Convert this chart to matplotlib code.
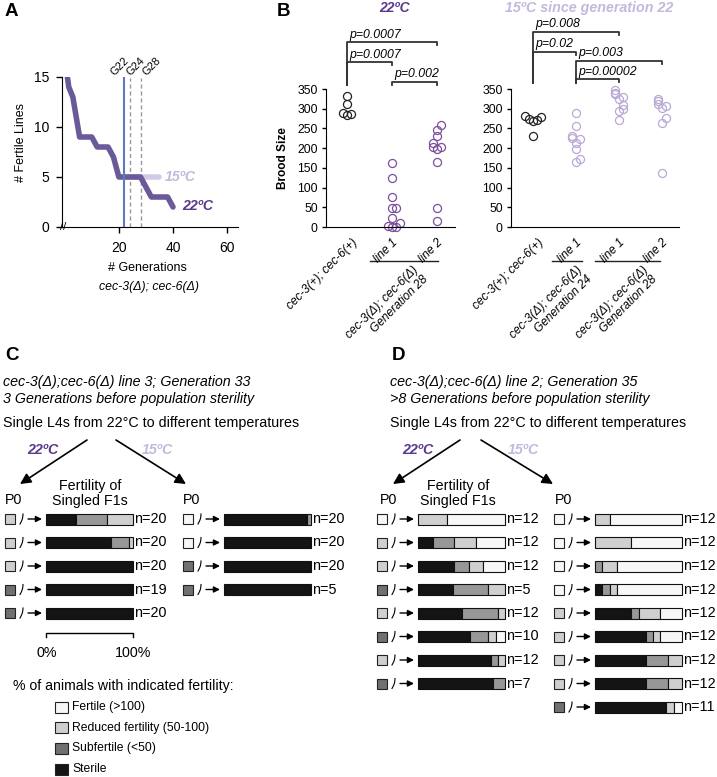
import numpy as np
import matplotlib
matplotlib.use('Agg')
import matplotlib.pyplot as plt
from matplotlib.patches import Rectangle

plt.rcParams['font.family'] = ['Liberation Sans', 'DejaVu Sans']

W, H = 717, 777

# ---------------- data ----------------
# A: number of fertile lines vs generation
gen_22 = [1, 1.5, 3, 5.5, 10, 12, 16, 18, 20, 28, 32, 38, 40]
lines_22 = [15, 14, 13, 9, 9, 8, 8, 7, 5, 5, 3, 3, 2]
gen_15 = [22, 35]
lines_15 = [5, 5]
marked_gens = [22, 24, 28]
marked_labels = ['G22', 'G24', 'G28']

# B: brood sizes
b22_wt = [333, 311, 289, 284, 286]
b22_line1 = [163, 124, 77, 48, 47, 24, 10, 2, 0, 0]
b22_line2 = [259, 247, 230, 214, 204, 202, 198, 166, 47, 16]
b22_pvals = [('p=0.0007', 1, 3), ('p=0.0007', 1, 2), ('p=0.002', 2, 3)]

b15_wt = [281, 278, 275, 272, 269, 231]
b15_g24 = [289, 255, 230, 225, 222, 214, 198, 172, 166]
b15_g28_l1 = [348, 341, 337, 329, 325, 310, 299, 295, 272]
b15_g28_l2 = [325, 319, 313, 308, 302, 276, 264, 136]
b15_pvals = [('p=0.008', 1, 3), ('p=0.02', 1, 2), ('p=0.003', 2, 4), ('p=0.00002', 2, 3)]

wt_label = 'cec-3(+); cec-6(+)'
mut_label = 'cec-3(Δ); cec-6(Δ)\nGeneration {}'

# C / D: counts per F1 category [sterile, subfertile, reduced, fertile]
categories = ['sterile', 'subfertile', 'reduced', 'fertile']
c22_counts = [[7, 7, 6, 0], [15, 4, 1, 0], [20, 0, 0, 0], [19, 0, 0, 0], [20, 0, 0, 0]]
c22_p0 = ['reduced', 'reduced', 'reduced', 'subfertile', 'subfertile']
c15_counts = [[19, 1, 0, 0], [20, 0, 0, 0], [20, 0, 0, 0], [5, 0, 0, 0]]
c15_p0 = ['fertile', 'fertile', 'subfertile', 'subfertile']
d22_counts = [[0, 0, 4, 8], [2, 3, 3, 4], [5, 2, 2, 3], [2, 2, 1, 0],
              [6, 5, 1, 0], [6, 2, 1, 1], [10, 1, 1, 0], [6, 1, 0, 0]]
d22_p0 = ['fertile', 'reduced', 'reduced', 'subfertile', 'reduced', 'subfertile', 'reduced', 'subfertile']
d15_counts = [[0, 0, 2, 10], [0, 0, 5, 7], [0, 1, 2, 9], [1, 1, 1, 9], [5, 1, 3, 3],
              [7, 1, 1, 3], [7, 3, 2, 0], [7, 3, 2, 0], [9, 0, 1, 1]]
d15_p0 = ['fertile'] * 4 + ['reduced'] * 4 + ['subfertile']

legend_labels = ['Fertile (>100)', 'Reduced fertility (50-100)', 'Subfertile (<50)', 'Sterile']
legend_keys = ['fertile', 'reduced', 'subfertile', 'sterile']

# ---------------- style ----------------
PURPLE = '#5b3a8e'
LIGHT = '#c4b8dc'
bar_colors = {'sterile': '#141414', 'subfertile': '#979797', 'reduced': '#cfcfcf', 'fertile': '#f7f7f7'}
box_colors = {'sterile': '#141414', 'subfertile': '#707070', 'reduced': '#cfcfcf', 'fertile': '#f7f7f7'}
b22_bracket_h = [469, 418, 368]
b15_bracket_h = [495, 444, 421, 375]
LBL = 8.6  # rotated category label size


def box(x0, y0, x1, y1):
    return [x0 / W, 1 - y1 / H, (x1 - x0) / W, (y1 - y0) / H]


def spread(vals, width=0.09, gap=13):
    vals = np.asarray(vals, float)
    offs = np.zeros(len(vals))
    placed = []
    for k in np.argsort(vals):
        n = sum(1 for p in placed if abs(vals[p] - vals[k]) < gap)
        if n:
            offs[k] = ((n + 1) // 2) * width * (1 if n % 2 else -1)
        placed.append(k)
    return offs


fig = plt.figure(figsize=(W / 100, H / 100), dpi=100)
ov = fig.add_axes([0, 0, 1, 1])
ov.set_xlim(0, W)
ov.set_ylim(H, 0)
ov.axis('off')

# ---------------- panel A ----------------
axA = fig.add_axes(box(62, 77, 238, 227))
axA.plot(gen_15, lines_15, color='#d3cae6', lw=4, solid_capstyle='round', zorder=2)
axA.plot(gen_22, lines_22, color='#6b5a9a', lw=4, solid_capstyle='round', solid_joinstyle='round', zorder=3)
axA.axvline(marked_gens[0], color='#5f78c0', lw=1.5, zorder=4)
for g in marked_gens[1:]:
    axA.axvline(g, ymax=0.99, color='#999999', lw=1, ls=(0, (3, 2)), zorder=1)
for g, lab, dx in zip(marked_gens, marked_labels, [-1.6, 2.3, 4.2]):
    axA.text(g + dx, 16.1, lab, rotation=45, ha='center', va='center', fontsize=8, clip_on=False)
axA.text(37, 5, '15ºC', color=LIGHT, fontsize=10.2, fontweight='bold', style='italic', va='center')
axA.text(43.5, 2.1, '22ºC', color=PURPLE, fontsize=10.2, fontweight='bold', style='italic', va='center')
axA.set_xlim(-1, 64)
axA.set_ylim(0, 15)
axA.set_xticks([20, 40, 60])
axA.set_yticks([0, 5, 10, 15])
axA.tick_params(direction='out', length=4, width=1, labelsize=10, pad=5)
axA.tick_params(axis='x', pad=6)
for s in ['top', 'right']:
    axA.spines[s].set_visible(False)
axA.text(-0.5, 0, '//', fontsize=8, ha='center', va='center', clip_on=False)
ov.text(21, 142, '# Fertile Lines', rotation=90, ha='center', va='center', fontsize=9)
ov.text(147, 268, '# Generations', ha='center', va='center', fontsize=9)
ov.text(149, 287, 'cec-3(Δ); cec-6(Δ)', ha='center', va='center', fontsize=8.8, style='italic')


# ---------------- panel B ----------------
def brood_axes(rect, groups, colors, xlim, pvals, heights, stem_base):
    ax = fig.add_axes(rect)
    for i, (vals, c) in enumerate(zip(groups, colors)):
        x = i + 1 + spread(vals)
        ax.plot(x, vals, 'o', mfc='none', mec=c, ms=5.8, mew=0.9, clip_on=False)
    ax.set_xlim(*xlim)
    ax.set_ylim(0, 350)
    ax.set_yticks(range(0, 351, 50))
    ax.set_xticks([])
    ax.tick_params(direction='out', length=3, width=1, labelsize=8.8, pad=3)
    for s in ['top', 'right']:
        ax.spines[s].set_visible(False)
    for (txt, i, j), h in zip(pvals, heights):
        ax.plot([i, i, j, j], [stem_base, h, h, h - 8], color='#333333', lw=1.3, clip_on=False)
        ax.text(i + 0.05, h + 4, txt, fontsize=8.8, style='italic', va='bottom', ha='left')
    ax.text(1.1, -25, wt_label, rotation=45, rotation_mode='anchor', ha='right', va='top',
            fontsize=LBL, style='italic')
    return ax


axL = brood_axes(box(326, 89, 455, 227), [b22_wt, b22_line1, b22_line2],
                 ['#222222', '#7c4f9c', '#7c4f9c'], (0.53, 3.4), b22_pvals, b22_bracket_h, 360)
axL.text(2.05, 556, '22ºC', color=PURPLE, fontsize=10, fontweight='bold', style='italic', ha='center', va='center')
axL.set_ylabel('Brood Size', fontsize=8.6, fontweight='bold', labelpad=6)
for x, lab in zip([2, 3], ['line 1', 'line 2']):
    axL.text(x, -25, lab, rotation=45, rotation_mode='anchor', ha='right', va='top', fontsize=LBL, style='italic')
axL.plot([1.5, 3.03], [-86, -86], color='#222222', lw=1, clip_on=False)
axL.text(2.45, -93, mut_label.format(28), rotation=45, rotation_mode='anchor', ha='right', va='top',
         fontsize=LBL, style='italic', multialignment='right')

axR = brood_axes(box(511, 89, 679, 227), [b15_wt, b15_g24, b15_g28_l1, b15_g28_l2],
                 ['#222222', '#b9a9d6', '#b9a9d6', '#b9a9d6'], (0.49, 4.4), b15_pvals, b15_bracket_h, 365)
axR.text(2.3, 556, '15ºC since generation 22', color=LIGHT, fontsize=10.3, fontweight='bold',
         style='italic', ha='center', va='center')
for x, lab in zip([2, 3, 4], ['line 1', 'line 1', 'line 2']):
    axR.text(x, -25, lab, rotation=45, rotation_mode='anchor', ha='right', va='top', fontsize=LBL, style='italic')
axR.plot([1.45, 2.15], [-86, -86], color='#222222', lw=1, clip_on=False)
axR.plot([2.45, 3.95], [-86, -86], color='#222222', lw=1, clip_on=False)
axR.text(2.0, -93, mut_label.format(24), rotation=45, rotation_mode='anchor', ha='right', va='top',
         fontsize=LBL, style='italic', multialignment='right')
axR.text(3.53, -93, mut_label.format(28), rotation=45, rotation_mode='anchor', ha='right', va='top',
         fontsize=LBL, style='italic', multialignment='right')

# ---------------- panels C / D ----------------
ROW0, ROWSTEP, BARLEN, BARH = 519, 23.5, 87, 11


def fertility_block(sq_x, counts, p0):
    bar_x = sq_x + 41
    for k, (row, p) in enumerate(zip(counts, p0)):
        y = ROW0 + k * ROWSTEP
        ov.add_patch(Rectangle((sq_x, y - 5), 10, 10, facecolor=box_colors[p], edgecolor='#222222', lw=0.8))
        t = np.linspace(0, 1, 8)
        ov.plot(sq_x + 15 + 3 * t + 0.8 * np.sin(np.pi * t), y + 5 - 10 * t, color='k', lw=0.8)
        ov.annotate('', xy=(sq_x + 37, y), xytext=(sq_x + 23, y),
                    arrowprops=dict(arrowstyle='-|>', color='k', lw=1, mutation_scale=9,
                                    shrinkA=0, shrinkB=0))
        n = sum(row)
        left = bar_x
        for cnt, cat in zip(row, categories):
            if cnt == 0:
                continue
            w = BARLEN * cnt / n
            ov.barh(y, w, left=left, height=BARH, color=bar_colors[cat], edgecolor='#111111', lw=0.8)
            left += w
        ov.text(bar_x + BARLEN + 1, y, 'n={}'.format(n), va='center', ha='left', fontsize=10.4)


def header(x, letter, lines, arrows, temp_pos, f1_x, p0_xs):
    ov.text(x + 2, 356, letter, fontsize=13.5, fontweight='bold', va='center')
    ov.text(x, 382, lines[0], style='italic', fontsize=10.3, va='center')
    ov.text(x, 399, lines[1], style='italic', fontsize=10.3, va='center')
    ov.text(x, 423, 'Single L4s from 22°C to different temperatures', fontsize=10.3, va='center')
    for (x0, y0), (x1, y1) in arrows:
        ov.annotate('', xy=(x1, y1), xytext=(x0, y0),
                    arrowprops=dict(arrowstyle='-|>', color='k', lw=1.2, mutation_scale=16,
                                    shrinkA=0, shrinkB=0))
    ov.text(temp_pos[0], 450, '22ºC', color=PURPLE, fontsize=10.3, fontweight='bold', style='italic',
            ha='center', va='center')
    ov.text(temp_pos[1], 450, '15ºC', color=LIGHT, fontsize=10.3, fontweight='bold', style='italic',
            ha='center', va='center')
    ov.text(f1_x, 493.5, 'Fertility of\nSingled F1s', ha='center', va='center', fontsize=10.3, linespacing=1.05)
    for px in p0_xs:
        ov.text(px, 500, 'P0', ha='left', va='center', fontsize=10.3)


header(3, 'C', ['cec-3(Δ);cec-6(Δ) line 3; Generation 33', '3 Generations before population sterility'],
       [((87, 440), (20, 484)), ((116, 440), (186, 484))], (43, 157), 90, [5, 183])
fertility_block(5, c22_counts, c22_p0)
fertility_block(183, c15_counts, c15_p0)

header(390, 'D', ['cec-3(Δ);cec-6(Δ) line 2; Generation 35', '>8 Generations before population sterility'],
       [((460, 440), (393, 484)), ((481, 440), (553, 484))], (418, 523), 458, [380, 555])
fertility_block(377, d22_counts, d22_p0)
fertility_block(554, d15_counts, d15_p0)

# scale bar
ov.plot([46, 46, 46 + BARLEN, 46 + BARLEN], [637, 633, 633, 637], color='k', lw=1)
ov.text(47, 653, '0%', ha='center', va='center', fontsize=10.3)
ov.text(46 + BARLEN, 653, '100%', ha='center', va='center', fontsize=10.3)

# legend
ov.text(13, 686, '% of animals with indicated fertility:', ha='left', va='center', fontsize=10.2)
for k, (key, lab) in enumerate(zip(legend_keys, legend_labels)):
    y = 707 + k * 20.7
    ov.add_patch(Rectangle((55, y - 5.5), 13, 11, facecolor=box_colors[key], edgecolor='#222222', lw=0.8))
    ov.text(72, y, lab, ha='left', va='center', fontsize=8.7)

# panel letters A, B
ov.text(5, 12, 'A', fontsize=13.5, fontweight='bold', va='center')
ov.text(277, 12, 'B', fontsize=13.5, fontweight='bold', va='center')

fig.savefig('out.png', dpi=100)
